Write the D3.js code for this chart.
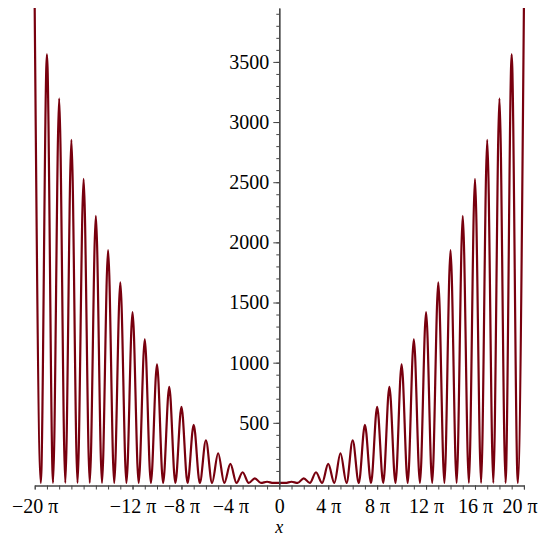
<!DOCTYPE html>
<html>
<head>
<meta charset="utf-8">
<script src="https://cdn.jsdelivr.net/npm/d3@7"></script>
<style>
  body { margin: 0; background: #fff; }
</style>
</head>
<body>
<div id="chart"></div>
<script>
// peaks of the curve at x = k*pi, k = 0..20
var peakVals = [0, 10, 39, 89, 158, 247, 355, 483, 632, 799, 987,
                1194, 1421, 1668, 1935, 2221, 2527, 2852, 3198, 3563, 3948];
// between peaks the curve drops to 0 at x = (k + 1/2)*pi
var troughVal = 0;
var xMajor = [-20, -12, -8, -4, 0, 4, 8, 12, 16, 20];
var yMajor = [500, 1000, 1500, 2000, 2500, 3000, 3500];

var width = 538, height = 537;
var x0 = 34.7, x1 = 523.9;
var yTop = 8, yAxis = 485.5;
var serif = "'Liberation Serif', 'Times New Roman', serif";

// build points (in units of pi) from peaks and troughs
var pts = [];
for (var k = -20; k <= 20; k++) {
    pts.push({x: k, y: peakVals[Math.abs(k)]});
    if (k < 20) pts.push({x: k + 0.5, y: troughVal});
}

var x = d3.scaleLinear().domain([-20, 20]).range([x0, x1]);
var y = d3.scaleLinear().domain([-21, 3948]).range([yAxis, yTop]);

var svg = d3.select("#chart").append("svg")
    .attr("width", width)
    .attr("height", height);

// curve
var line = d3.line()
    .x(function(d) { return x(d.x); })
    .y(function(d) { return y(d.y); })
    .curve(d3.curveMonotoneX);

svg.append("path")
    .datum(pts)
    .attr("d", line)
    .attr("fill", "none")
    .attr("stroke", "#78000e")
    .attr("stroke-width", 2.2);

// x axis
svg.append("g")
    .attr("transform", "translate(0," + yAxis + ")")
    .call(d3.axisBottom(x).tickValues(d3.range(-20, 21)).tickSize(4).tickSizeOuter(0).tickFormat(""));
var xAx = svg.append("g")
    .attr("transform", "translate(0," + yAxis + ")")
    .call(d3.axisBottom(x).tickValues(xMajor).tickSize(4).tickSizeOuter(0).tickPadding(9)
        .tickFormat(function(d) { return d === 0 ? "0" : (d < 0 ? "\u2212" + (-d) : d) + " \u03c0"; }));
// last label would run off the right edge
xAx.selectAll(".tick text").filter(function(d) { return d === 20; })
    .attr("text-anchor", "end")
    .attr("x", width - 1 - x(20));

// y axis
var yMinorTicks = d3.range(100, 3948, 100);
svg.append("g")
    .attr("transform", "translate(" + x(0) + ",0)")
    .call(d3.axisLeft(y).tickValues(yMinorTicks).tickSize(3).tickSizeOuter(0).tickFormat(""));
svg.append("g")
    .attr("transform", "translate(" + x(0) + ",0)")
    .call(d3.axisLeft(y).tickValues(yMajor).tickSize(6).tickSizeOuter(0).tickPadding(4).tickFormat(d3.format("d")));

svg.selectAll("g").attr("font-family", serif);
svg.selectAll(".domain").attr("stroke", "#444").attr("stroke-width", 1.2);
svg.selectAll(".tick line").attr("stroke", "#444");
svg.selectAll(".tick text")
    .attr("fill", "#000")
    .style("font-family", serif)
    .style("font-size", "20px");

// axis title
svg.append("text")
    .attr("x", x(0))
    .attr("y", 533)
    .attr("text-anchor", "middle")
    .style("font-family", serif)
    .style("font-size", "18px")
    .style("font-style", "italic")
    .text("x");
</script>
</body>
</html>
